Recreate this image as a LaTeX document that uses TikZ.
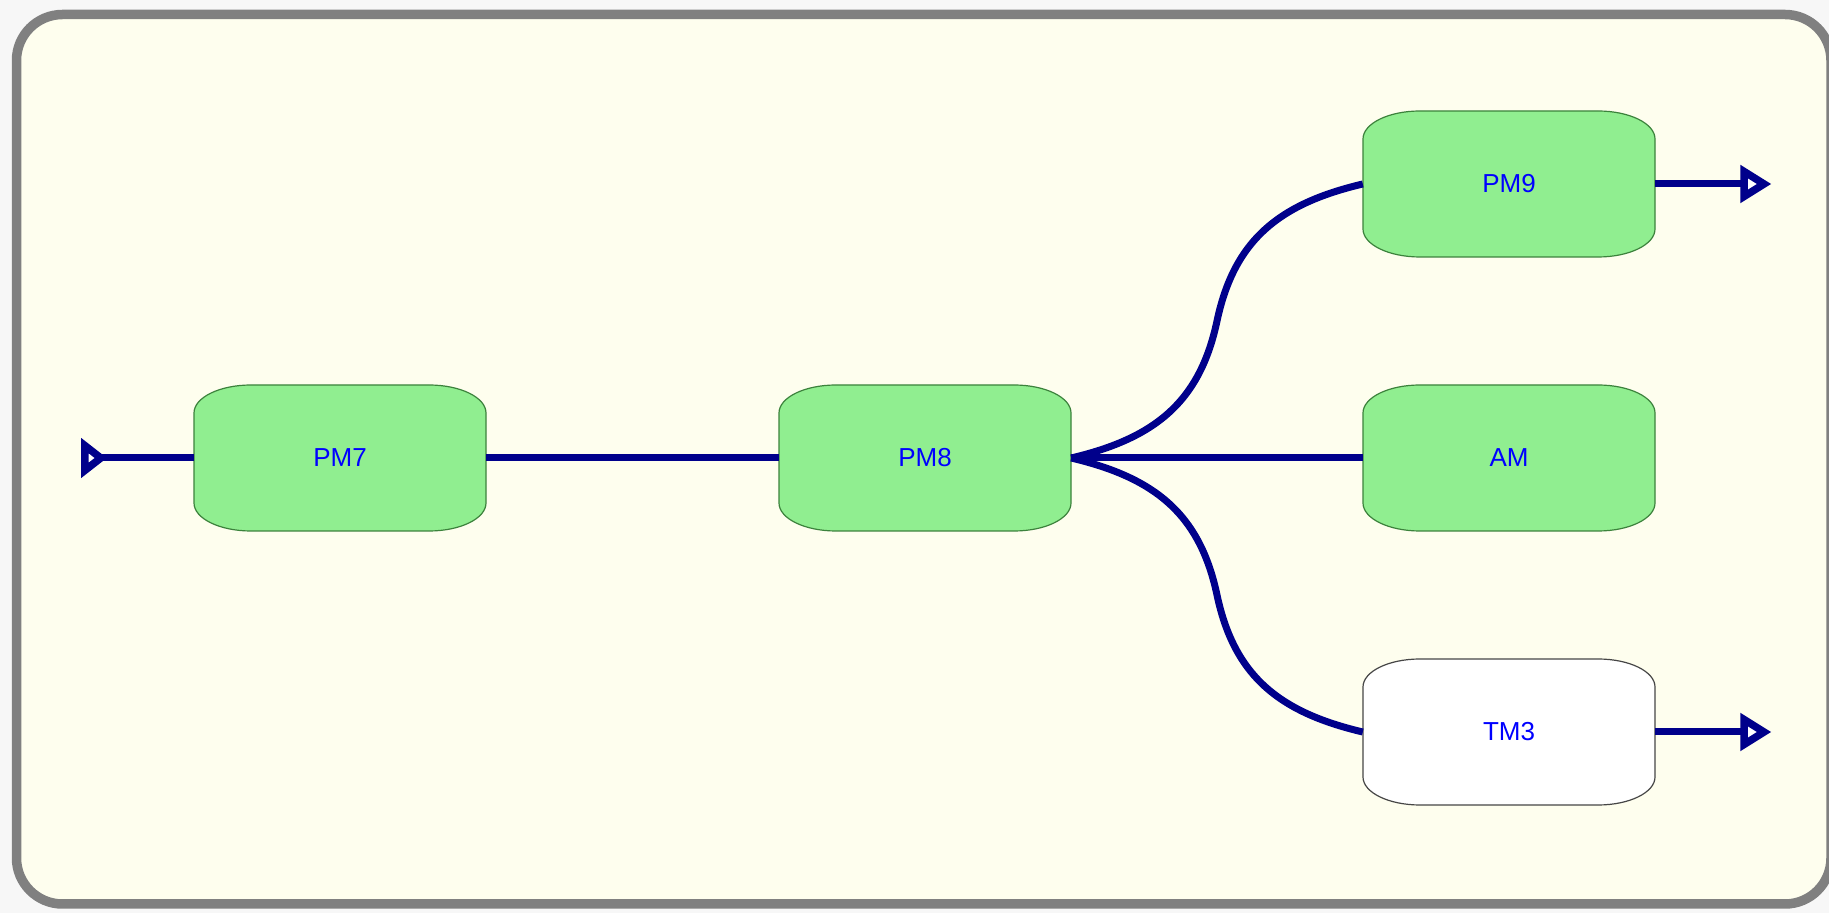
\documentclass[tikz,border=0pt]{standalone}
\usepackage{fontspec}
\setmainfont{Liberation Sans}
\usetikzlibrary{calc}
\definecolor{cream}{RGB}{254,254,238}
\definecolor{framegray}{RGB}{128,128,128}
\definecolor{linkblue}{RGB}{0,0,139}
\definecolor{boxgreen}{RGB}{144,238,144}
\definecolor{boxedge}{RGB}{60,130,60}
\definecolor{grayedge}{RGB}{70,70,70}
\definecolor{txtblue}{RGB}{0,0,255}
\newcommand\capshape[3]{%
  \path[fill=#2,draw=#3,line width=1.2pt] (#1) ++(-89,73) -- ++(178,0)
    arc[start angle=90,end angle=0,x radius=57,y radius=28] -- ++(0,-90)
    arc[start angle=0,end angle=-90,x radius=57,y radius=28] -- ++(-178,0)
    arc[start angle=270,end angle=180,x radius=57,y radius=28] -- ++(0,90)
    arc[start angle=180,end angle=90,x radius=57,y radius=28] -- cycle;}
\begin{document}
\begin{tikzpicture}[x=1pt,y=1pt,
  box/.style={minimum width=292pt,minimum height=146pt,inner sep=0pt,text=txtblue,font=\fontsize{26}{30}\selectfont},
  link/.style={draw=linkblue,line width=7pt},
  tiptri/.style={draw=linkblue,fill=white,line width=7.5pt,miter limit=10}]
\useasboundingbox (0,0) rectangle (1829,913);
\clip (0,0) rectangle (1829,913);
\fill[white!97!black] (0,0) rectangle (1829,913);
\draw[framegray,line width=9.5pt,fill=cream,rounded corners=46pt] (16.5,9) rectangle (1831,898.5);
% shapes
\capshape{340,455}{boxgreen}{boxedge}
\capshape{925,455}{boxgreen}{boxedge}
\capshape{1509,729}{boxgreen}{boxedge}
\capshape{1509,455}{boxgreen}{boxedge}
\capshape{1509,181}{white}{grayedge}
% nodes
\node[box] (pm7) at (340,455) {PM7};
\node[box] (pm8) at (925,455) {PM8};
\node[box] (pm9) at (1509,729) {PM9};
\node[box] (am) at (1509,455) {AM};
\node[box] (tm3) at (1509,181) {TM3};
\coordinate (src) at (100,455);
\coordinate (out1) at (1744,729);
\coordinate (out2) at (1744,181);
\coordinate (m1) at ($(pm8.east)!0.5!(pm9.west)$);
\coordinate (m2) at ($(pm8.east)!0.5!(tm3.west)$);
% links
\draw[link] (src) -- (pm7.west);
\draw[link] (pm7.east) -- (pm8.west);
\draw[link] (pm8.east) -- (am.west);
\draw[link] (pm8.east) .. controls +(85,20) and +(-17,-80) .. (m1)
  .. controls +(17,80) and +(-85,-20) .. (pm9.west);
\draw[link] (pm8.east) .. controls +(85,-20) and +(-17,80) .. (m2)
  .. controls +(17,-80) and +(-85,20) .. (tm3.west);
\draw[link] (pm9.east) -- (out1);
\draw[link] (tm3.east) -- (out2);
% tips
\draw[tiptri] (84.75,455) ++(0,12.5) -- ++(16,-12.5) -- ++(-16,-12.5) -- cycle;
\draw[tiptri] (out1) ++(0,12.5) -- ++(20,-12.5) -- ++(-20,-12.5) -- cycle;
\draw[tiptri] (out2) ++(0,12.5) -- ++(20,-12.5) -- ++(-20,-12.5) -- cycle;
\end{tikzpicture}
\end{document}
